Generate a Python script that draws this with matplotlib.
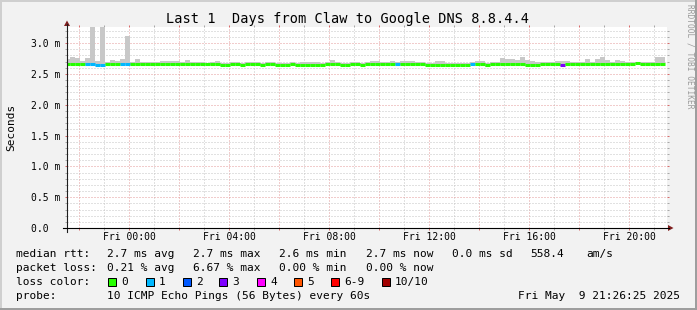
import numpy as np
import matplotlib
matplotlib.use("Agg")
import matplotlib.pyplot as plt
from matplotlib.patches import Rectangle, Polygon
from matplotlib.lines import Line2D
from matplotlib.ticker import MultipleLocator, FuncFormatter

# ── DATA (hours relative to Fri 00:00, values in ms) ─────────────
t_first = -2.56          # start of first 12-minute bin
t_step = 0.2             # 12 minutes

median_ms = [
    2.667, 2.667, 2.667, 2.667, 2.667, 2.667, 2.651, 2.651, 2.667, 2.667,
    2.667, 2.667, 2.667, 2.667, 2.667, 2.667, 2.667, 2.667, 2.667, 2.667,
    2.667, 2.667, 2.667, 2.667, 2.667, 2.667, 2.667, 2.667, 2.667, 2.667,
    2.667, 2.651, 2.651, 2.667, 2.667, 2.651, 2.667, 2.667, 2.667, 2.651,
    2.667, 2.667, 2.651, 2.651, 2.651, 2.667, 2.651, 2.651, 2.651, 2.651,
    2.651, 2.651, 2.667, 2.667, 2.667, 2.651, 2.651, 2.667, 2.667, 2.651,
    2.667, 2.667, 2.667, 2.667, 2.667, 2.667, 2.667, 2.667, 2.667, 2.667,
    2.667, 2.667, 2.651, 2.651, 2.651, 2.646, 2.646, 2.646, 2.646, 2.646,
    2.646, 2.667, 2.667, 2.667, 2.651, 2.667, 2.667, 2.667, 2.667, 2.667,
    2.667, 2.667, 2.651, 2.651, 2.651, 2.667, 2.667, 2.667, 2.667, 2.651,
    2.667, 2.667, 2.667, 2.667, 2.667, 2.667, 2.667, 2.667, 2.667, 2.667,
    2.667, 2.667, 2.667, 2.667, 2.683, 2.667, 2.667, 2.667, 2.667, 2.667,
]

smoke_hi = [
    2.740, 2.773, 2.765, 2.716, 2.761, 3.500, 2.716, 3.500, 2.692, 2.724,
    2.708, 2.740, 3.110, 2.692, 2.740, 2.692, 2.692, 2.700, 2.692, 2.708,
    2.708, 2.708, 2.708, 2.692, 2.724, 2.695, 2.695, 2.700, 2.684, 2.695,
    2.708, 2.684, 2.684, 2.695, 2.695, 2.684, 2.695, 2.695, 2.695, 2.684,
    2.695, 2.695, 2.684, 2.684, 2.684, 2.695, 2.684, 2.700, 2.700, 2.700,
    2.700, 2.684, 2.695, 2.724, 2.695, 2.684, 2.684, 2.695, 2.695, 2.684,
    2.695, 2.708, 2.708, 2.700, 2.700, 2.708, 2.695, 2.708, 2.708, 2.708,
    2.695, 2.695, 2.684, 2.684, 2.708, 2.708, 2.684, 2.684, 2.684, 2.684,
    2.684, 2.695, 2.708, 2.708, 2.684, 2.695, 2.695, 2.757, 2.735, 2.735,
    2.724, 2.778, 2.724, 2.708, 2.695, 2.695, 2.695, 2.695, 2.708, 2.716,
    2.716, 2.700, 2.695, 2.700, 2.740, 2.700, 2.740, 2.778, 2.724, 2.700,
    2.724, 2.708, 2.700, 2.700, 2.700, 2.700, 2.695, 2.700, 2.770, 2.770,
]

smoke_lo = [
    2.645, 2.645, 2.645, 2.645, 2.645, 2.645, 2.630, 2.630, 2.645, 2.645,
    2.645, 2.645, 2.645, 2.645, 2.645, 2.645, 2.645, 2.620, 2.645, 2.645,
    2.645, 2.645, 2.645, 2.645, 2.645, 2.645, 2.645, 2.645, 2.645, 2.645,
    2.645, 2.630, 2.630, 2.645, 2.645, 2.630, 2.645, 2.645, 2.645, 2.620,
    2.645, 2.645, 2.630, 2.630, 2.630, 2.645, 2.630, 2.630, 2.630, 2.620,
    2.620, 2.630, 2.645, 2.645, 2.645, 2.630, 2.630, 2.645, 2.645, 2.630,
    2.645, 2.645, 2.645, 2.645, 2.645, 2.645, 2.645, 2.645, 2.645, 2.645,
    2.645, 2.645, 2.630, 2.630, 2.630, 2.625, 2.625, 2.625, 2.625, 2.625,
    2.625, 2.645, 2.645, 2.645, 2.615, 2.645, 2.645, 2.645, 2.645, 2.645,
    2.645, 2.645, 2.630, 2.630, 2.630, 2.645, 2.645, 2.645, 2.645, 2.630,
    2.645, 2.645, 2.645, 2.645, 2.645, 2.645, 2.645, 2.645, 2.645, 2.645,
    2.645, 2.645, 2.645, 2.645, 2.660, 2.645, 2.645, 2.645, 2.645, 2.645,
]

loss_count = [0] * 120
for k in (4, 5, 6, 7, 11, 12, 66, 81):
    loss_count[k] = 1
loss_count[99] = 3

loss_labels = ["0", "1", "2", "3", "4", "5", "6-9", "10/10"]
loss_colors = ["#26ff00", "#00b8ff", "#0059ff", "#7e00ff",
               "#ff00ff", "#ff5500", "#ff0000", "#a10000"]

rtt_stats = ["2.7 ms avg", "2.7 ms max", "2.6 ms min", "2.7 ms now",
             "0.0 ms sd", "558.4", "am/s"]
loss_stats = ["0.21 % avg", "6.67 % max", "0.00 % min", "0.00 % now"]
probe_text = "10 ICMP Echo Pings (56 Bytes) every 60s"
stamp_text = "Fri May  9 21:26:25 2025"
title_text = "Last 1  Days from Claw to Google DNS 8.8.4.4"

# ── LAYOUT (pixels) ──────────────────────────────────────────────
W, H = 697, 310
MONO = "DejaVu Sans Mono"
plt.rcParams["font.family"] = MONO

GRID_COL = "#c4c4c4"
MGRID_COL = "#e49a9a"


def fx(x):
    return x / W


def fy(y):
    return 1 - y / H


fig = plt.figure(figsize=(W / 100, H / 100), dpi=100, facecolor="#f2f2f2")

# 3D frame
fig.patches.append(Rectangle((0, fy(2)), 1, 2 / H, transform=fig.transFigure,
                             color="#cfcfcf", lw=0))
fig.patches.append(Rectangle((0, 0), fx(2), 1, transform=fig.transFigure,
                             color="#cfcfcf", lw=0))
fig.patches.append(Rectangle((0, 0), 1, 2 / H, transform=fig.transFigure,
                             color="#9e9e9e", lw=0))
fig.patches.append(Rectangle((fx(W - 2), 0), fx(2), 1, transform=fig.transFigure,
                             color="#9e9e9e", lw=0))

ax = fig.add_axes([fx(67), fy(228), 600 / W, 201 / H])
ax.set_facecolor("white")
ax.set_xlim(-2.48, 21.52)
ax.set_ylim(0, 3.26)
for s in ax.spines.values():
    s.set_visible(False)

# ── MARKS ───────────────────────────────────────────────────────
starts = t_first + t_step * np.arange(len(median_ms))
hi = np.array(smoke_hi)
lo = np.array(smoke_lo)
ax.bar(starts, hi - lo, width=t_step, bottom=lo, align="edge",
       color="#c8c8c8", linewidth=0, zorder=2)

color_of = {0: 0, 1: 1, 2: 2, 3: 3, 4: 4, 5: 5, 10: 7}
seg_colors = [loss_colors[color_of.get(c, 6)] for c in loss_count]
ax.hlines(median_ms, starts, starts + t_step, colors=seg_colors,
          linewidth=2.2, capstyle="butt", zorder=3)

# ── GRID & TICKS ────────────────────────────────────────────────
ax.xaxis.set_major_locator(MultipleLocator(2))
ax.xaxis.set_minor_locator(MultipleLocator(1))
ax.yaxis.set_major_locator(MultipleLocator(0.5))
ax.yaxis.set_minor_locator(MultipleLocator(0.1))
ax.xaxis.set_major_formatter(FuncFormatter(
    lambda v, p: f"Fri {int(round(v)):02d}:00" if round(v) % 4 == 0 and v >= 0 else ""))
ax.yaxis.set_major_formatter(FuncFormatter(
    lambda v, p: "0.0  " if abs(v) < 1e-9 else f"{v:.1f} m"))

dot = (0, (1, 2))
ax.grid(which="minor", color=GRID_COL, linestyle=dot, linewidth=0.72, zorder=0)
ax.grid(which="major", color=MGRID_COL, linestyle=dot, linewidth=0.72, zorder=0)
ax.set_axisbelow(True)

ax.tick_params(axis="both", which="both", labelsize=7, width=0.72,
               direction="out", length=1.5, labelcolor="black",
               top=True, right=True)
ax.tick_params(axis="both", which="major", colors="#d86a6a", labelcolor="black")
ax.tick_params(axis="both", which="minor", colors="#a8a8a8")
ax.tick_params(axis="x", which="major", pad=1.2)
ax.tick_params(axis="y", which="major", pad=3.6)

# axes with arrows
axis_col = "#1f1f1f"
arrow_col = "#801f1f"
fig.lines.append(Line2D([fx(67), fx(67)], [fy(232), fy(24)],
                        transform=fig.transFigure, color=axis_col, lw=0.8))
fig.lines.append(Line2D([fx(63), fx(669)], [fy(228), fy(228)],
                        transform=fig.transFigure, color="black", lw=0.8))
fig.patches.append(Polygon([(fx(64), fy(26)), (fx(67), fy(20.5)), (fx(70), fy(26))],
                           closed=True, transform=fig.transFigure,
                           color=arrow_col, lw=0))
fig.patches.append(Polygon([(fx(668), fy(225)), (fx(673.5), fy(228)), (fx(668), fy(231))],
                           closed=True, transform=fig.transFigure,
                           color=arrow_col, lw=0))

# ── TEXTS ───────────────────────────────────────────────────────
fig.text(fx(348), fy(19), title_text, ha="center", va="center", fontsize=9.8)
fig.text(fx(11), fy(127.5), "Seconds", rotation=90, ha="center", va="center",
         fontsize=8)
fig.text(fx(690), fy(4), "RRDTOOL / TOBI OETIKER", rotation=270, ha="center",
         va="top", fontsize=5.7, color="#9a9a9a")

col_x = [107, 193, 279, 366, 452, 530, 586]
fig.text(fx(16), fy(254), "median rtt:", va="center", fontsize=8)
for x, s in zip(col_x, rtt_stats):
    fig.text(fx(x), fy(254), s, va="center", fontsize=8)

fig.text(fx(16), fy(268), "packet loss:", va="center", fontsize=8)
for x, s in zip(col_x, loss_stats):
    fig.text(fx(x), fy(268), s, va="center", fontsize=8)

fig.text(fx(16), fy(282), "loss color:", va="center", fontsize=8)
box_x = [108, 146, 183, 219, 257, 294, 331, 382]
for x, lab, c in zip(box_x, loss_labels, loss_colors):
    fig.patches.append(Rectangle((fx(x), fy(286)), 8 / W, 8 / H,
                                 transform=fig.transFigure, facecolor=c,
                                 edgecolor="black", lw=0.72))
    fig.text(fx(x + 13), fy(282), lab, va="center", fontsize=8)

fig.text(fx(16), fy(296), "probe:", va="center", fontsize=8)
fig.text(fx(107), fy(296), probe_text, va="center", fontsize=8)
fig.text(fx(680), fy(296), stamp_text, ha="right", va="center", fontsize=8)

fig.savefig("out.png", dpi=100, facecolor=fig.get_facecolor())
